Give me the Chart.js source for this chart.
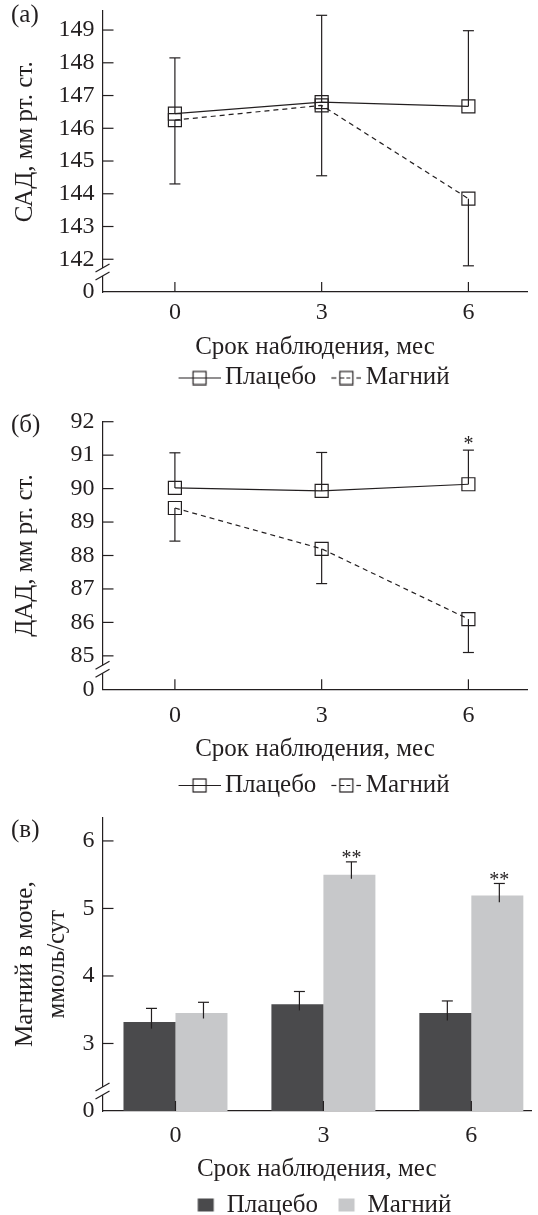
<!DOCTYPE html>
<html>
<head>
<meta charset="utf-8">
<script src="https://cdn.jsdelivr.net/npm/chart.js@4.4.1/dist/chart.umd.min.js"></script>
<style>
  html, body { margin: 0; padding: 0; background: #fff; overflow: hidden; }
  canvas { position: absolute; left: 0; }
</style>
</head>
<body>
<canvas id="chartSad" width="538" height="400" style="top:0"></canvas>
<canvas id="chartDad" width="538" height="410" style="top:400px"></canvas>
<canvas id="chartMg" width="538" height="430" style="top:800px"></canvas>
<script>
// months of follow-up
const months = [0, 3, 6];
const monthLabels = ['0', '3', '6'];

// (а) САД, мм рт. ст.
const sadPlacebo = [146.45, 146.8, 146.67];
const sadMagnesium = [146.25, 146.7, 143.85];
const sadPlaceboHigh = [148.15, 149.45, 148.98];
const sadMagnesiumLow = [144.3, 144.55, 141.8];
const sadTicks = [141, 142, 143, 144, 145, 146, 147, 148, 149];   // 141 = axis break, shown as 0
const sadTickLabels = ['0', '142', '143', '144', '145', '146', '147', '148', '149'];

// (б) ДАД, мм рт. ст.
const dadPlacebo = [90.02, 89.93, 90.13];
const dadMagnesium = [89.42, 88.2, 86.1];
const dadPlaceboHigh = [91.07, 91.08, 91.15];
const dadMagnesiumLow = [88.43, 87.16, 85.1];
const dadMarks = ['', '', '*'];
const dadTicks = [84, 85, 86, 87, 88, 89, 90, 91, 92];
const dadTickLabels = ['0', '85', '86', '87', '88', '89', '90', '91', '92'];

// (в) Магний в моче, ммоль/сут
const mgPlacebo = [3.32, 3.58, 3.45];
const mgMagnesium = [3.45, 5.5, 5.19];
const mgPlaceboHigh = [3.52, 3.77, 3.63];
const mgPlaceboLow = [3.22, 3.49, 3.34];
const mgMagnesiumHigh = [3.61, 5.69, 5.37];
const mgMagnesiumLow = [3.37, 5.44, 5.09];
const mgMarks = ['', '**', '**'];
const mgTicks = [2, 3, 4, 5, 6];
const mgTickLabels = ['0', '3', '4', '5', '6'];

const INK = '#231f20';
const SERIF = "'Liberation Serif', 'DejaVu Serif', serif";
Chart.defaults.font.family = SERIF;
Chart.defaults.color = INK;

function points(values) {
    return months.map((m, i) => ({ x: m, y: values[i] }));
}

function strokeLine(ctx, x1, y1, x2, y2) {
    ctx.beginPath();
    ctx.moveTo(x1, y1);
    ctx.lineTo(x2, y2);
    ctx.stroke();
}

// legend icons
function lineIcon(dashed) {
    const c = document.createElement('canvas');
    c.width = 48; c.height = 16;
    const g = c.getContext('2d');
    g.strokeStyle = INK; g.lineWidth = 1.2;
    if (dashed) {
        strokeLine(g, 18, 8.5, 23, 8.5);
        strokeLine(g, 43, 8.5, 48, 8.5);
        g.setLineDash([4, 2]);
        strokeLine(g, 27, 8.5, 40, 8.5);
        g.setLineDash([]);
        g.strokeRect(26.5, 2, 13, 13);
    } else {
        strokeLine(g, 6, 8.5, 48, 8.5);
        g.strokeRect(20.5, 2, 13, 13);
    }
    return c;
}

function boxIcon(color) {
    const c = document.createElement('canvas');
    c.width = 48; c.height = 16;
    const g = c.getContext('2d');
    g.fillStyle = color;
    g.fillRect(23.5, 1.5, 16, 13);
    return c;
}

// inward ticks, axis break and panel letter
const axisDecor = {
    id: 'axisDecor',
    afterDraw(chart, args, opts) {
        const ctx = chart.ctx;
        const xs = chart.scales.x, ys = chart.scales.y;
        const ax = xs.left, ay = ys.bottom;
        ctx.save();
        ctx.strokeStyle = INK;
        ctx.lineWidth = 1.2;
        ys.ticks.forEach(t => {
            if (t.value === opts.breakValue) return;
            const py = ys.getPixelForValue(t.value);
            strokeLine(ctx, ax, py, ax + 11, py);
        });
        xs.ticks.forEach(t => {
            const px = xs.getPixelForValue(t.value);
            strokeLine(ctx, px, ay, px, ay - 10);
        });
        const c = ys.getPixelForValue(opts.breakValue) - 20;
        ctx.fillStyle = '#fff';
        ctx.fillRect(ax - 2, c - 4, 4, 8);
        [-4, 4].forEach(d => strokeLine(ctx, ax - 7, c + d + 4, ax + 7, c + d - 4));
        ctx.fillStyle = INK;
        ctx.font = '25px ' + SERIF;
        ctx.textBaseline = 'middle';
        ctx.fillText(opts.letter, 11, opts.letterY);
        ctx.restore();
    }
};

// error bars and significance marks, read from the datasets
const errorBars = {
    id: 'errorBars',
    afterDatasetsDraw(chart, args, opts) {
        const ctx = chart.ctx, ys = chart.scales.y;
        ctx.save();
        ctx.strokeStyle = INK;
        ctx.fillStyle = INK;
        ctx.lineWidth = 1.2;
        chart.data.datasets.forEach((ds, di) => {
            const meta = chart.getDatasetMeta(di);
            meta.data.forEach((el, i) => {
                const px = el.x + (ds.errShift || 0);
                const mid = ys.getPixelForValue(ds.data[i].y);
                const top = ds.errHigh ? ys.getPixelForValue(ds.errHigh[i]) : mid;
                const bot = ds.errLow ? ys.getPixelForValue(ds.errLow[i]) : mid;
                strokeLine(ctx, px, top, px, bot);
                if (ds.errHigh) strokeLine(ctx, px - 5.5, top, px + 5.5, top);
                if (ds.errLow && ds.capLow) strokeLine(ctx, px - 5.5, bot, px + 5.5, bot);
                if (ds.marks && ds.marks[i]) {
                    ctx.font = '20px ' + SERIF;
                    ctx.textAlign = 'center';
                    ctx.textBaseline = 'middle';
                    ctx.fillText(ds.marks[i], px, top - opts.markGap);
                }
            });
        });
        ctx.restore();
    }
};

function legendOptions() {
    return {
        position: 'bottom',
        fullSize: false,
        labels: {
            usePointStyle: true,
            pointStyleWidth: 32,
            padding: 5,
            color: INK,
            font: { family: SERIF, size: 25 },
            generateLabels: chart => chart.data.datasets.map((ds, i) => ({
                text: ds.label,
                pointStyle: ds.legendIcon,
                datasetIndex: i,
                fontColor: INK,
                lineWidth: 0,
                strokeStyle: 'transparent',
                fillStyle: 'transparent'
            }))
        }
    };
}

function scalesFor(p) {
    return {
        x: {
            type: 'linear',
            min: -1.48,
            max: 7.21,
            offset: false,
            grid: { display: false, drawTicks: false, offset: false },
            border: { display: true, color: INK, width: 1.2 },
            afterBuildTicks: s => { s.ticks = months.map(v => ({ value: v })); },
            ticks: { font: { size: 24 }, color: INK, padding: p.tickPad, callback: (v, i) => monthLabels[i] },
            title: {
                display: true,
                text: 'Срок наблюдения, мес',
                font: { size: 25 },
                color: INK,
                padding: { top: p.titleTop, bottom: p.titleBottom }
            }
        },
        y: {
            min: p.yTicks[0],
            max: p.yMax,
            grid: { display: false, drawTicks: false },
            border: { display: true, color: INK, width: 1.2 },
            afterBuildTicks: s => { s.ticks = p.yTicks.map(v => ({ value: v })); },
            afterFit: s => { s.width = 102.5; s.paddingTop = 0; s.paddingBottom = 0; },
            ticks: { font: { size: 24 }, color: INK, padding: 8, callback: (v, i) => p.yLabels[i] },
            title: {
                display: true,
                text: p.yTitle,
                font: { size: 25, lineHeight: p.yTitleLH },
                color: INK,
                padding: { top: p.yTitlePad, bottom: 0 }
            }
        }
    };
}

function makeLineChart(id, p) {
    return new Chart(document.getElementById(id), {
        type: 'line',
        data: {
            datasets: [
                {
                    label: 'Плацебо',
                    data: points(p.placebo),
                    borderColor: INK,
                    borderWidth: 1.2,
                    pointStyle: 'rect',
                    pointRadius: 9.2,
                    pointBorderWidth: 1.2,
                    pointBorderColor: INK,
                    pointBackgroundColor: 'transparent',
                    errHigh: p.placeboHigh,
                    marks: p.marks,
                    legendIcon: lineIcon(false)
                },
                {
                    label: 'Магний',
                    data: points(p.magnesium),
                    borderColor: INK,
                    borderWidth: 1.2,
                    borderDash: [5, 4],
                    pointStyle: 'rect',
                    pointRadius: 9.2,
                    pointBorderWidth: 1.2,
                    pointBorderColor: INK,
                    pointBackgroundColor: 'transparent',
                    errLow: p.magnesiumLow,
                    capLow: true,
                    legendIcon: lineIcon(true)
                }
            ]
        },
        options: {
            responsive: false,
            animation: false,
            layout: { padding: { top: p.padTop, right: 7, bottom: p.padBottom, left: 0 } },
            scales: scalesFor(p),
            plugins: {
                legend: legendOptions(),
                tooltip: { enabled: false },
                errorBars: { markGap: 5 },
                axisDecor: { breakValue: p.yTicks[0], letter: p.letter, letterY: p.letterY }
            }
        },
        plugins: [errorBars, axisDecor]
    });
}

makeLineChart('chartSad', {
    placebo: sadPlacebo, magnesium: sadMagnesium,
    placeboHigh: sadPlaceboHigh, magnesiumLow: sadMagnesiumLow, marks: null,
    yTicks: sadTicks, yLabels: sadTickLabels, yMax: 149.6,
    yTitle: '   САД, мм рт. ст.', yTitleLH: 1.2, yTitlePad: 10,
    padTop: 4, padBottom: 0, tickPad: 6.5, titleTop: -1.8, titleBottom: -2,
    letter: '(а)', letterY: 15
});

makeLineChart('chartDad', {
    placebo: dadPlacebo, magnesium: dadMagnesium,
    placeboHigh: dadPlaceboHigh, magnesiumLow: dadMagnesiumLow, marks: dadMarks,
    yTicks: dadTicks, yLabels: dadTickLabels, yMax: 92,
    yTitle: 'ДАД, мм рт. ст.', yTitleLH: 1.2, yTitlePad: 10,
    padTop: 21.7, padBottom: 2.5, tickPad: 12.2, titleTop: -8.5, titleBottom: 3.5,
    letter: '(б)', letterY: 25
});

const mgParams = {
    yTicks: mgTicks, yLabels: mgTickLabels, yMax: 6.35,
    yTitle: ['Магний в моче,', 'ммоль/сут'], yTitleLH: 1.28, yTitlePad: 9,
    tickPad: 10.5, titleTop: -6.8, titleBottom: 3.5
};

new Chart(document.getElementById('chartMg'), {
    type: 'bar',
    data: {
        datasets: [
            {
                label: 'Плацебо',
                data: points(mgPlacebo),
                backgroundColor: '#4a4a4c',
                borderWidth: 0,
                errHigh: mgPlaceboHigh,
                errLow: mgPlaceboLow,
                errShift: 2,
                legendIcon: boxIcon('#4a4a4c')
            },
            {
                label: 'Магний',
                data: points(mgMagnesium),
                backgroundColor: '#c7c8ca',
                borderWidth: 0,
                errHigh: mgMagnesiumHigh,
                errLow: mgMagnesiumLow,
                errShift: 2,
                marks: mgMarks,
                legendIcon: boxIcon('#c7c8ca')
            }
        ]
    },
    options: {
        responsive: false,
        animation: false,
        categoryPercentage: 0.703,
        barPercentage: 1,
        layout: { padding: { top: 17.3, right: 7, bottom: 2.5, left: 0 } },
        scales: scalesFor(mgParams),
        plugins: {
            legend: legendOptions(),
            tooltip: { enabled: false },
            errorBars: { markGap: 3 },
            axisDecor: { breakValue: mgTicks[0], letter: '(в)', letterY: 30 }
        }
    },
    plugins: [errorBars, axisDecor]
});
</script>
</body>
</html>
